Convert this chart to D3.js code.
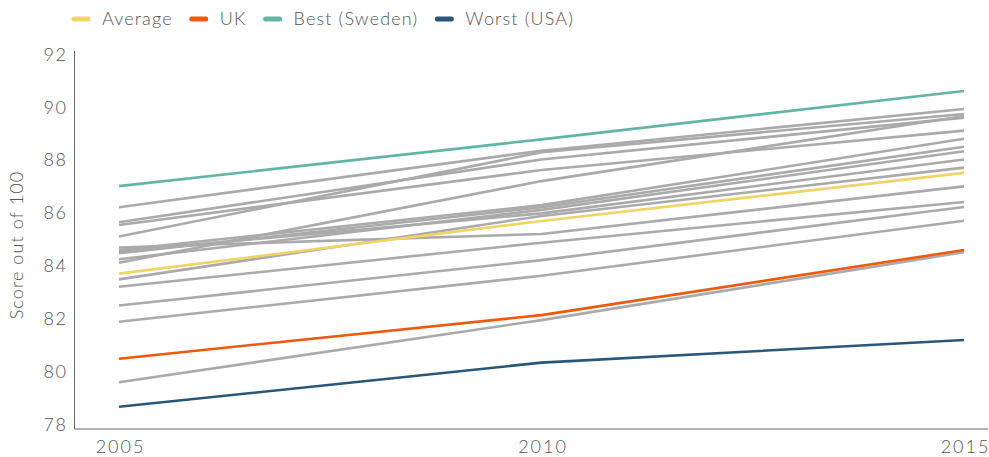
<!DOCTYPE html>
<html><head><meta charset="utf-8">
<script src="https://cdn.jsdelivr.net/npm/d3@7"></script>
<style>
body{margin:0;background:#fff;}
text{font-family:Lato,"Open Sans",sans-serif;font-weight:300;fill:#555;}
</style></head>
<body><svg id="c" width="989" height="457"></svg>
<script>
const years = [2005, 2010, 2015];
const yTicks = [78, 80, 82, 84, 86, 88, 90, 92];
const average = [83.71, 85.70, 87.52];
const uk = [80.49, 82.14, 84.60];
const best = [87.02, 88.79, 90.62];
const worst = [78.67, 80.34, 81.20];
const others = [
  [86.22, 88.36, 89.94],
  [85.11, 88.30, 89.75],
  [85.65, 88.03, 89.61],
  [85.55, 87.63, 89.12],
  [84.12, 87.21, 89.67],
  [84.60, 86.30, 88.81],
  [84.48, 86.22, 88.51],
  [84.25, 86.12, 88.34],
  [84.55, 85.99, 88.03],
  [83.49, 85.89, 87.72],
  [84.70, 85.21, 87.01],
  [83.21, 84.88, 86.42],
  [82.50, 84.22, 86.23],
  [81.89, 83.63, 85.71],
  [79.60, 81.95, 84.52]
];
const legendNames = ["Average", "UK", "Best (Sweden)", "Worst (USA)"];
const colors = {grey:"#aaaaaa", avg:"#f0d468", uk:"#ec5a0e", best:"#62b5a3", worst:"#28577a"};

const svg = d3.select("#c");
const x = d3.scaleLinear().domain([2005, 2015]).range([119, 964]);
const y = d3.scaleLinear().domain([78, 92]).range([424.5, 54.5]);
const line = d3.line().x((d, i) => x(years[i])).y(d => y(d));

// axes
const yAxis = svg.append("g").attr("transform", "translate(74.5,0)")
  .call(d3.axisLeft(y).tickValues(yTicks).tickSize(0).tickPadding(7).tickFormat(d3.format("d")));
yAxis.select(".domain").remove();
yAxis.selectAll("text").style("font-size", "18px").style("font-family", "Lato")
  .style("letter-spacing", "1.5px").attr("fill", "#555");
const xAxis = svg.append("g").attr("transform", "translate(0,429)")
  .call(d3.axisBottom(x).tickValues(years).tickSize(0).tickPadding(11).tickFormat(d3.format("d")));
xAxis.select(".domain").remove();
xAxis.selectAll("text").style("font-size", "18px").style("font-family", "Lato")
  .style("letter-spacing", "2px").attr("dx", "1px").attr("fill", "#555");

svg.append("line").attr("x1", 74.5).attr("x2", 74.5).attr("y1", y(92) - 3.5).attr("y2", 429)
  .attr("stroke", "#666").attr("stroke-width", 1);
svg.append("line").attr("x1", 74.5).attr("x2", 988).attr("y1", 429).attr("y2", 429)
  .attr("stroke", "#666").attr("stroke-width", 1);

svg.append("text").attr("transform", "translate(23,245) rotate(-90)")
  .attr("text-anchor", "middle").style("font-size", "18px").style("letter-spacing", "1.1px")
  .text("Score out of 100");

// lines
const g = svg.append("g").attr("fill", "none").attr("stroke-width", 2.6);
others.forEach(s => g.append("path").attr("d", line(s)).attr("stroke", colors.grey));
[[average, colors.avg], [uk, colors.uk], [best, colors.best], [worst, colors.worst]]
  .forEach(([s, c]) => g.append("path").attr("d", line(s)).attr("stroke", c));

// legend
const legColors = [colors.avg, colors.uk, colors.best, colors.worst];
let lx = 74;
const leg = svg.append("g");
legendNames.forEach((n, i) => {
  leg.append("line").attr("x1", lx).attr("x2", lx + 14).attr("y1", 19).attr("y2", 19)
    .attr("stroke", legColors[i]).attr("stroke-width", 5).attr("stroke-linecap", "round");
  const t = leg.append("text").attr("x", lx + 28).attr("y", 25).style("font-size", "18px")
    .style("letter-spacing", "1.15px").text(n);
  lx = lx + 28 + t.node().getComputedTextLength() + 19;
});
</script></body></html>
